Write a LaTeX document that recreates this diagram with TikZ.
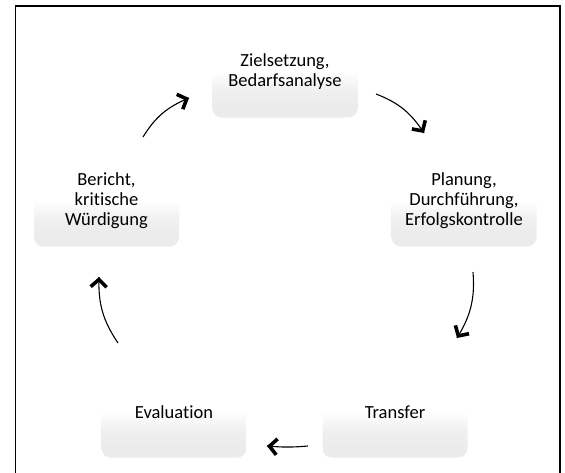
\documentclass[tikz,border=0pt]{standalone}
\usepackage{fontspec}
\setmainfont{Carlito}[Ligatures=NoCommon]
\usetikzlibrary{arrows.meta,decorations.markings}
\pgfdeclareverticalshading{boxshade}{100bp}{color(0bp)=(black!6); color(25bp)=(black!4); color(26.5bp)=(black!8); color(30bp)=(black!8); color(40bp)=(black!6); color(47bp)=(black!2); color(50bp)=(white); color(100bp)=(white)}
\tikzset{
  cyclebox/.style={rounded corners=10pt, minimum width=145pt, minimum height=92pt, inner sep=0pt,
    shading=boxshade, align=center, font=\fontsize{18.5}{20}\selectfont, text=black},
  cyclearrow/.style={line width=1.1pt, bend left=#1, postaction={decorate},
    decoration={markings, mark=at position 1 with {\arrow[line width=3.6pt, line join=miter, line cap=round]{Straight Barb[length=7.5pt, width=16pt]}}}},
  cyclearrow/.default=18
}
\begin{document}
\begin{tikzpicture}[x=1pt, y=-1pt]
\useasboundingbox (0,0) rectangle (565,473);
\draw[line width=1.6pt] (15.5,473) -- (15.5,6) -- (560,6) -- (560,473);

\node[cyclebox] (ziel) at (285,72) {Zielsetzung,\\Bedarfsanalyse};
\node[cyclebox] (plan) at (464,201) {Planung,\\Durchführung,\\Erfolgskontrolle};
\node[cyclebox] (trans) at (395,412) {Transfer};
\node[cyclebox] (eval) at (174,412) {Evaluation};
\node[cyclebox] (ber) at (106.5,201) {Bericht,\\kritische\\Würdigung};

\foreach \n in {ziel,plan,trans,eval,ber}{
  \fill[white, opacity=0.9] ([xshift=7pt, yshift=-7pt]\n.south west) circle (5pt);
}

\coordinate (a1s) at (376,94);  \coordinate (a1e) at (424,133);
\coordinate (a2s) at (473,272); \coordinate (a2e) at (457,338);
\coordinate (a3s) at (308,446); \coordinate (a3e) at (267,446);
\coordinate (a4s) at (118,343); \coordinate (a4e) at (99,277);
\coordinate (a5s) at (143,137); \coordinate (a5e) at (189,98);

\draw[cyclearrow] (a1s) to (a1e);
\draw[cyclearrow] (a2s) to (a2e);
\draw[cyclearrow=5] (a3s) to (a3e);
\draw[cyclearrow] (a4s) to (a4e);
\draw[cyclearrow] (a5s) to (a5e);
\end{tikzpicture}
\end{document}
